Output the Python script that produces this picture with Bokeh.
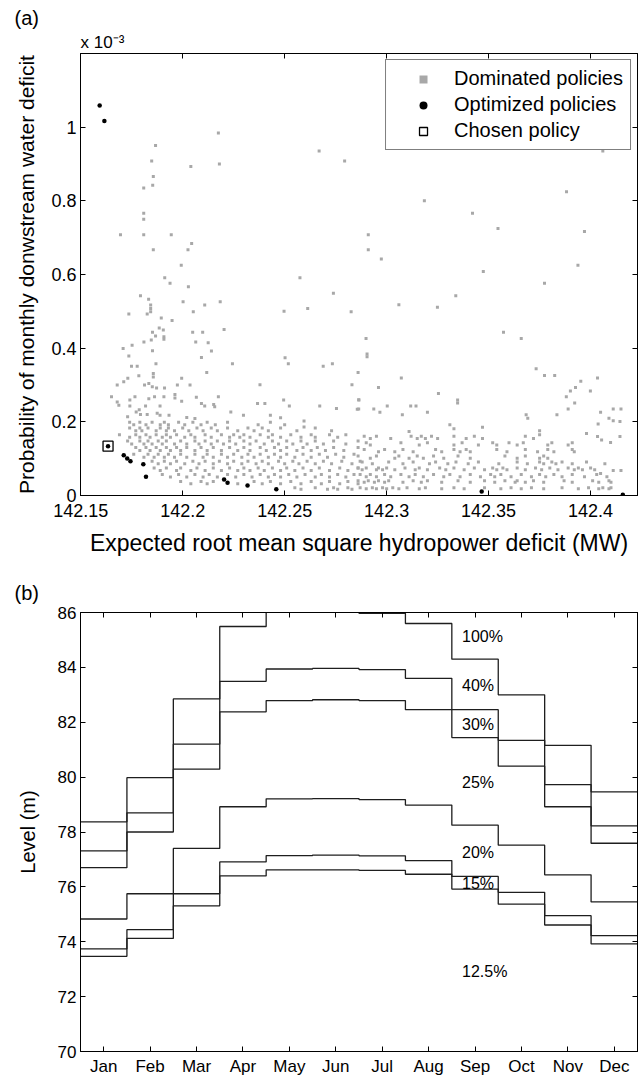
from bokeh.plotting import figure
from bokeh.models import (Range1d, LinearAxis, FixedTicker, CustomJSTickFormatter,
                          Legend, LegendItem, Title)
from bokeh.layouts import column
from bokeh.embed import file_html
from bokeh.resources import INLINE
from bokeh.core.properties import value

FONT = "Liberation Sans"

# ---------------- Panel (a) data (y in units of 1e-3) ----------------
x_ticks_a = [142.15, 142.2, 142.25, 142.3, 142.35, 142.4]
y_ticks_a = [0, 0.2, 0.4, 0.6, 0.8, 1.0]

sparse_x = [
    142.2175, 142.1867, 142.1848, 142.2040, 142.2180, 142.1856, 142.1853, 142.1809, 142.1809, 142.1809,
    142.1695, 142.1809, 142.1944, 142.2044, 142.1856, 142.2026, 142.1993, 142.1912, 142.2575, 142.2669,
    142.2794, 142.3185, 142.3421, 142.3546, 142.2910, 142.2910, 142.2974, 142.3474, 142.3882, 142.4060,
    142.3970, 142.3938,
    142.1938, 142.2028, 142.1793, 142.1833, 142.1843, 142.1843, 142.1843, 142.2002, 142.2052, 142.2108,
    142.2184, 142.1736, 142.1826, 142.1895, 142.1948, 142.1885, 142.1905, 142.1852, 142.1867, 142.1908,
    142.1908, 142.1846, 142.1810, 142.1852, 142.1708, 142.1752, 142.1736, 142.2049, 142.2098, 142.2064,
    142.2125, 142.2141, 142.2203, 142.2092, 142.1869, 142.1749, 142.1777, 142.2118, 142.2244, 142.1731,
    142.1711, 142.1679, 142.1785, 142.1856, 142.1856, 142.1813, 142.1834, 142.1851, 142.1872, 142.1911,
    142.1974, 142.1995, 142.2036, 142.1651, 142.1679, 142.1687, 142.1741, 142.1741, 142.1766, 142.1834,
    142.1862, 142.1908, 142.1962, 142.1962, 142.1995, 142.2067, 142.2092, 142.2108, 142.2152, 142.2175,
    142.2157, 142.1889, 142.1818, 142.1787, 142.1772, 142.1793, 142.1826, 142.1875, 142.1889, 142.1933,
    142.2236, 142.2298, 142.2367, 142.2403, 142.2379, 142.2430, 142.2495, 142.2523, 142.2502, 142.2518,
    142.2497, 142.2613, 142.2739, 142.2826, 142.2689, 142.2734, 142.2830, 142.2860, 142.2672, 142.2754,
    142.2864, 142.2856, 142.2595, 142.2595,
    142.3774, 142.3339, 142.3060, 142.3249, 142.3573, 142.3660, 142.2899, 142.2904, 142.2904, 142.3072,
    142.3733, 142.3774, 142.3824, 142.3952, 142.3926, 142.3901, 142.3881, 142.3922, 142.3890, 142.3999,
    142.4034, 142.2960, 142.3254, 142.3348, 142.3348, 142.2863, 142.2863, 142.2937, 142.2967, 142.3003,
    142.3118, 142.3144, 142.3077, 142.3200, 142.3684, 142.3692, 142.3835, 142.4111, 142.4149, 142.4049,
    142.4090, 142.4111, 142.4144, 142.4037, 142.3980, 142.4034, 142.4054, 142.4098, 142.4144, 142.4111,
    142.4149, 142.4049,
]
sparse_y = [
    0.984, 0.950, 0.908, 0.893, 0.900, 0.866, 0.842, 0.835, 0.766, 0.750,
    0.708, 0.708, 0.708, 0.684, 0.667, 0.667, 0.625, 0.591, 0.591, 0.935,
    0.908, 0.800, 0.766, 0.725, 0.708, 0.667, 0.642, 0.608, 0.825, 0.935,
    0.717, 0.625,
    0.576, 0.567, 0.542, 0.533, 0.517, 0.508, 0.499, 0.526, 0.499, 0.517,
    0.526, 0.493, 0.493, 0.482, 0.475, 0.455, 0.449, 0.443, 0.433, 0.431,
    0.424, 0.422, 0.417, 0.393, 0.399, 0.408, 0.379, 0.443, 0.443, 0.417,
    0.415, 0.392, 0.451, 0.375, 0.358, 0.351, 0.351, 0.334, 0.358, 0.318,
    0.309, 0.300, 0.325, 0.331, 0.322, 0.300, 0.304, 0.295, 0.292, 0.292,
    0.300, 0.318, 0.300, 0.268, 0.254, 0.245, 0.259, 0.243, 0.268, 0.263,
    0.268, 0.268, 0.274, 0.265, 0.256, 0.267, 0.250, 0.243, 0.247, 0.268,
    0.241, 0.243, 0.243, 0.233, 0.227, 0.220, 0.220, 0.223, 0.218, 0.218,
    0.227, 0.218, 0.250, 0.250, 0.301, 0.218, 0.259, 0.243, 0.374, 0.358,
    0.500, 0.508, 0.549, 0.499, 0.351, 0.358, 0.301, 0.334, 0.243, 0.236,
    0.259, 0.234, 0.202, 0.186,
    0.576, 0.542, 0.518, 0.511, 0.443, 0.426, 0.426, 0.384, 0.377, 0.319,
    0.344, 0.326, 0.326, 0.310, 0.293, 0.284, 0.268, 0.251, 0.235, 0.284,
    0.319, 0.293, 0.277, 0.259, 0.251, 0.260, 0.235, 0.235, 0.226, 0.243,
    0.243, 0.243, 0.219, 0.226, 0.219, 0.210, 0.219, 0.235, 0.235, 0.226,
    0.210, 0.203, 0.201, 0.194, 0.168, 0.160, 0.151, 0.144, 0.160, 0.068,
    0.068, 0.060,
]

band_left_x = [
    142.173, 142.202, 142.206, 142.248,
    142.174, 142.176, 142.179, 142.182, 142.185, 142.189, 142.191, 142.193, 142.198, 142.201,
    142.205, 142.209, 142.212, 142.216, 142.222, 142.237, 142.243, 142.250,
    142.174, 142.177, 142.179, 142.180, 142.183, 142.187, 142.189, 142.192, 142.193, 142.196,
    142.200, 142.203, 142.207, 142.210, 142.214, 142.217, 142.222, 142.227, 142.232, 142.235,
    142.239, 142.242, 142.248, 142.256, 142.265, 142.273,
    142.169, 142.174, 142.177, 142.179, 142.182, 142.184, 142.187, 142.190, 142.192, 142.194,
    142.197, 142.201, 142.204, 142.206, 142.211, 142.214, 142.219, 142.223, 142.225, 142.228,
    142.230, 142.233, 142.238, 142.242, 142.244, 142.248, 142.253, 142.258, 142.263, 142.265,
    142.272, 142.276, 142.280,
    142.173, 142.175, 142.179, 142.181, 142.183, 142.185, 142.188, 142.190, 142.192, 142.196,
    142.199, 142.202, 142.206, 142.208, 142.211, 142.214, 142.217, 142.220, 142.223, 142.226,
    142.230, 142.233, 142.236, 142.240, 142.244, 142.247, 142.251, 142.254, 142.258, 142.261,
    142.265, 142.269, 142.274, 142.280, 142.286,
    142.177, 142.179, 142.182, 142.184, 142.187, 142.189, 142.192, 142.194, 142.197, 142.199,
    142.202, 142.206, 142.209, 142.212, 142.215, 142.219, 142.223, 142.227, 142.230, 142.233,
    142.238, 142.241, 142.245, 142.248, 142.251, 142.256, 142.259, 142.263, 142.266, 142.270,
    142.274, 142.279, 142.286,
    142.176, 142.181, 142.183, 142.186, 142.188, 142.191, 142.193, 142.196, 142.199, 142.202,
    142.206, 142.210, 142.212, 142.215, 142.219, 142.222, 142.225, 142.229, 142.232, 142.235,
    142.238, 142.242, 142.245, 142.248, 142.251, 142.255, 142.259, 142.263, 142.267, 142.271,
    142.275, 142.279, 142.284,
    142.185, 142.188, 142.191, 142.194, 142.197, 142.201, 142.205, 142.208, 142.211, 142.215,
    142.218, 142.222, 142.225, 142.229, 142.232, 142.236, 142.239, 142.242, 142.247, 142.250,
    142.254, 142.257, 142.261, 142.265, 142.269, 142.273, 142.278, 142.283, 142.287,
    142.186, 142.189, 142.192, 142.197, 142.199, 142.204, 142.207, 142.211, 142.215, 142.219,
    142.223, 142.227, 142.230, 142.233, 142.237, 142.240, 142.244, 142.248, 142.251, 142.255,
    142.259, 142.263, 142.267, 142.272, 142.277, 142.281, 142.286,
    142.190, 142.194, 142.198, 142.202, 142.206, 142.210, 142.213, 142.217, 142.222, 142.226,
    142.230, 142.234, 142.238, 142.242, 142.245, 142.248, 142.252, 142.256, 142.260, 142.265,
    142.268, 142.272, 142.276, 142.280, 142.284,
    142.199, 142.204, 142.209, 142.212, 142.215, 142.227, 142.235, 142.239, 142.243, 142.248,
    142.253, 142.258, 142.263, 142.268, 142.272, 142.277, 142.281, 142.286,
    142.255, 142.258, 142.265, 142.271, 142.274, 142.276, 142.281, 142.283,
]
band_left_y = [
    0.214, 0.212, 0.209, 0.211,
    0.199, 0.192, 0.199, 0.192, 0.199, 0.192, 0.199, 0.192, 0.199, 0.192,
    0.199, 0.192, 0.199, 0.192, 0.199, 0.192, 0.199, 0.192,
    0.183, 0.176, 0.183, 0.176, 0.183, 0.176, 0.183, 0.176, 0.183, 0.176,
    0.183, 0.176, 0.183, 0.176, 0.183, 0.176, 0.183, 0.176, 0.183, 0.176,
    0.183, 0.176, 0.183, 0.176, 0.183, 0.176,
    0.165, 0.158, 0.165, 0.158, 0.165, 0.158, 0.165, 0.158, 0.165, 0.158,
    0.165, 0.158, 0.165, 0.158, 0.165, 0.158, 0.165, 0.158, 0.165, 0.158,
    0.165, 0.158, 0.165, 0.158, 0.165, 0.158, 0.165, 0.158, 0.165, 0.158,
    0.165, 0.158, 0.165,
    0.148, 0.140, 0.148, 0.140, 0.148, 0.140, 0.148, 0.140, 0.148, 0.140,
    0.148, 0.140, 0.148, 0.140, 0.148, 0.140, 0.148, 0.140, 0.148, 0.140,
    0.148, 0.140, 0.148, 0.140, 0.148, 0.140, 0.148, 0.140, 0.148, 0.140,
    0.148, 0.140, 0.148, 0.140, 0.148,
    0.130, 0.122, 0.130, 0.122, 0.130, 0.122, 0.130, 0.122, 0.130, 0.122,
    0.130, 0.122, 0.130, 0.122, 0.130, 0.122, 0.130, 0.122, 0.130, 0.122,
    0.130, 0.122, 0.130, 0.122, 0.130, 0.122, 0.130, 0.122, 0.130, 0.122,
    0.130, 0.122, 0.130,
    0.112, 0.104, 0.112, 0.104, 0.112, 0.104, 0.112, 0.104, 0.112, 0.104,
    0.112, 0.104, 0.112, 0.104, 0.112, 0.104, 0.112, 0.104, 0.112, 0.104,
    0.112, 0.104, 0.112, 0.104, 0.112, 0.104, 0.112, 0.104, 0.112, 0.104,
    0.112, 0.104, 0.112,
    0.093, 0.086, 0.093, 0.086, 0.093, 0.086, 0.093, 0.086, 0.093, 0.086,
    0.093, 0.086, 0.093, 0.086, 0.093, 0.086, 0.093, 0.086, 0.093, 0.086,
    0.093, 0.086, 0.093, 0.086, 0.093, 0.086, 0.093, 0.086, 0.093,
    0.075, 0.068, 0.075, 0.068, 0.075, 0.068, 0.075, 0.068, 0.075, 0.068,
    0.075, 0.068, 0.075, 0.068, 0.075, 0.068, 0.075, 0.068, 0.075, 0.068,
    0.075, 0.068, 0.075, 0.068, 0.075, 0.068, 0.075,
    0.057, 0.050, 0.057, 0.050, 0.057, 0.050, 0.057, 0.050, 0.057, 0.050,
    0.057, 0.050, 0.057, 0.050, 0.057, 0.050, 0.057, 0.050, 0.057, 0.050,
    0.057, 0.050, 0.057, 0.050, 0.057,
    0.038, 0.032, 0.038, 0.032, 0.038, 0.032, 0.038, 0.032, 0.038, 0.032,
    0.038, 0.032, 0.038, 0.032, 0.038, 0.032, 0.038, 0.032,
    0.021, 0.017, 0.021, 0.017, 0.021, 0.017, 0.021, 0.017,
]

band_right_x = [
    142.331, 142.333, 142.347, 142.311, 142.375, 142.375,
    142.289, 142.292, 142.295, 142.302, 142.312, 142.315, 142.317, 142.319, 142.322, 142.325,
    142.333, 142.339, 142.343, 142.347, 142.368, 142.372,
    142.290, 142.292, 142.307, 142.316, 142.320, 142.333, 142.337, 142.345, 142.352, 142.354,
    142.360, 142.364, 142.367, 142.379, 142.381, 142.389, 142.391,
    142.289, 142.296, 142.299, 142.304, 142.308, 142.313, 142.324, 142.327, 142.333, 142.336,
    142.339, 142.341, 142.354, 142.359, 142.368, 142.374, 142.379, 142.382, 142.391, 142.392,
    142.286, 142.292, 142.295, 142.304, 142.306, 142.311, 142.315, 142.318, 142.323, 142.328,
    142.335, 142.341, 142.358, 142.364, 142.368, 142.375, 142.377, 142.379,
    142.288, 142.293, 142.301, 142.308, 142.313, 142.321, 142.324, 142.330, 142.334, 142.340,
    142.345, 142.355, 142.364, 142.369, 142.375, 142.377, 142.381, 142.383, 142.386, 142.391,
    142.398, 142.407,
    142.286, 142.288, 142.290, 142.295, 142.296, 142.298, 142.300, 142.304, 142.309, 142.314,
    142.316, 142.320, 142.326, 142.329, 142.333, 142.338, 142.343, 142.348, 142.352, 142.354,
    142.357, 142.359, 142.364, 142.368, 142.373, 142.376, 142.380, 142.384, 142.389, 142.392,
    142.394, 142.396, 142.400, 142.402,
    142.287, 142.290, 142.292, 142.295, 142.299, 142.302, 142.307, 142.311, 142.314, 142.318,
    142.323, 142.328, 142.331, 142.336, 142.341, 142.346, 142.351, 142.353, 142.356, 142.361,
    142.366, 142.371, 142.375, 142.378, 142.382, 142.386, 142.391, 142.397, 142.403, 142.408,
    142.286, 142.289, 142.291, 142.294, 142.296, 142.299, 142.301, 142.308, 142.313, 142.317,
    142.320, 142.327, 142.335, 142.341, 142.348, 142.353, 142.358, 142.363, 142.364, 142.368,
    142.372, 142.377, 142.387, 142.391, 142.401, 142.404, 142.409, 142.410,
    142.287, 142.290, 142.293, 142.295, 142.298, 142.300, 142.303, 142.306, 142.310, 142.316,
    142.319, 142.327, 142.333, 142.338, 142.348, 142.356, 142.361, 142.366, 142.371, 142.377,
    142.386, 142.394, 142.399, 142.404, 142.406, 142.409, 142.410,
]
band_right_y = [
    0.192, 0.181, 0.185, 0.174, 0.176, 0.165,
    0.161, 0.155, 0.161, 0.155, 0.161, 0.155, 0.161, 0.155, 0.161, 0.155,
    0.161, 0.155, 0.161, 0.155, 0.161, 0.155,
    0.143, 0.137, 0.143, 0.137, 0.143, 0.137, 0.143, 0.137, 0.143, 0.137,
    0.143, 0.137, 0.143, 0.137, 0.143, 0.137, 0.143,
    0.125, 0.119, 0.125, 0.119, 0.125, 0.119, 0.125, 0.119, 0.125, 0.119,
    0.125, 0.119, 0.125, 0.119, 0.125, 0.119, 0.125, 0.119, 0.125, 0.119,
    0.107, 0.101, 0.107, 0.101, 0.107, 0.101, 0.107, 0.101, 0.107, 0.101,
    0.107, 0.101, 0.107, 0.101, 0.107, 0.101, 0.107, 0.101,
    0.091, 0.086, 0.091, 0.086, 0.091, 0.086, 0.091, 0.086, 0.091, 0.086,
    0.091, 0.086, 0.091, 0.086, 0.091, 0.086, 0.091, 0.086, 0.091, 0.086,
    0.091, 0.086,
    0.075, 0.070, 0.075, 0.070, 0.075, 0.070, 0.075, 0.070, 0.075, 0.070,
    0.075, 0.070, 0.075, 0.070, 0.075, 0.070, 0.075, 0.070, 0.075, 0.070,
    0.075, 0.070, 0.075, 0.070, 0.075, 0.070, 0.075, 0.070, 0.075, 0.070,
    0.075, 0.070, 0.075, 0.070,
    0.057, 0.051, 0.057, 0.051, 0.057, 0.051, 0.057, 0.051, 0.057, 0.051,
    0.057, 0.051, 0.057, 0.051, 0.057, 0.051, 0.057, 0.051, 0.057, 0.051,
    0.057, 0.051, 0.057, 0.051, 0.057, 0.051, 0.057, 0.051, 0.057, 0.051,
    0.040, 0.036, 0.040, 0.036, 0.040, 0.036, 0.040, 0.036, 0.040, 0.036,
    0.040, 0.036, 0.040, 0.036, 0.040, 0.036, 0.040, 0.036, 0.040, 0.036,
    0.040, 0.036, 0.040, 0.036, 0.040, 0.036, 0.040, 0.036,
    0.021, 0.018, 0.021, 0.018, 0.021, 0.018, 0.021, 0.018, 0.021, 0.018,
    0.021, 0.018, 0.021, 0.018, 0.021, 0.018, 0.021, 0.018, 0.021, 0.018,
    0.021, 0.018, 0.021, 0.018, 0.021, 0.018, 0.021,
]

optimized_x = [142.1593, 142.1616, 142.1711, 142.1728, 142.1744, 142.1807, 142.1820,
               142.2203, 142.2220, 142.2318, 142.2459, 142.3466, 142.4158]
optimized_y = [1.059, 1.017, 0.1095, 0.1005, 0.0932, 0.0851, 0.0507,
               0.0434, 0.0344, 0.0271, 0.0172, 0.011, 0.002]
chosen_x = [142.1634]
chosen_y = [0.134]

assert len(band_left_x) == len(band_left_y)
assert len(band_right_x) == len(band_right_y)
assert len(sparse_x) == len(sparse_y)

dominated_x = sparse_x + band_left_x + band_right_x
dominated_y = sparse_y + band_left_y + band_right_y

# ---------------- Panel (b) data ----------------
months = ["Jan", "Feb", "Mar", "Apr", "May", "Jun", "Jul", "Aug", "Sep", "Oct", "Nov", "Dec"]
month_pos = [1, 2, 3, 4, 5, 6, 7, 8, 9, 10, 11, 12]
curve_100_40 = [78.37, 79.98, 82.85, 85.49, 86.40, 86.40, 85.97, 85.60, 84.30, 83.00, 81.16, 79.46]
curve_40_30 = [77.31, 78.70, 81.20, 83.49, 83.94, 83.96, 83.92, 83.60, 82.46, 81.34, 79.73, 78.22]
curve_30_25 = [76.70, 78.00, 80.29, 82.38, 82.79, 82.82, 82.79, 82.46, 81.44, 80.40, 78.92, 77.59]
curve_25_20 = [74.83, 75.75, 77.40, 78.92, 79.21, 79.22, 79.18, 78.98, 78.25, 77.52, 76.44, 75.45]
curve_20_15 = [73.74, 74.44, 75.75, 76.91, 77.14, 77.16, 77.13, 76.96, 76.38, 75.80, 74.95, 74.22]
curve_15_125 = [73.47, 74.12, 75.31, 76.40, 76.62, 76.62, 76.60, 76.46, 75.92, 75.37, 74.61, 73.92]
zone_labels = ["100%", "40%", "30%", "25%", "20%", "15%", "12.5%"]
zone_label_y = [85.12, 83.33, 81.92, 79.79, 77.25, 76.11, 72.90]
zone_label_x = [8.72] * 7
y_ticks_b = [70, 72, 74, 76, 78, 80, 82, 84, 86]


def style_axis(ax, size, labels=True, standoff=5):
    ax.axis_line_color = "black"
    ax.axis_line_width = 1
    ax.major_tick_in = 5
    ax.major_tick_out = 0
    ax.major_tick_line_color = "black"
    ax.minor_tick_line_color = None
    ax.major_label_text_font = FONT
    ax.axis_label_text_font = FONT
    ax.axis_label_text_font_style = "normal"
    ax.axis_label_text_color = "black"
    if labels:
        ax.major_label_text_color = "black"
        ax.major_label_text_font_size = size
        ax.major_label_standoff = standoff
    else:
        ax.major_label_text_color = None
        ax.major_label_text_font_size = "1px"
        ax.major_label_standoff = 0


def panel_title(text, size, offset, standoff):
    return Title(text=text, align="left", offset=offset, standoff=standoff,
                 text_font=FONT, text_font_size=size, text_font_style="normal",
                 text_color="black")


# ---------------- Figure (a) ----------------
p1 = figure(width=638, height=570, x_range=Range1d(142.1499, 142.423), y_range=Range1d(0, 1.2),
            output_backend="svg", toolbar_location=None,
            min_border_left=80, min_border_right=1, min_border_top=53, min_border_bottom=75)
p1.xgrid.visible = False
p1.ygrid.visible = False
p1.outline_line_color = "black"
p1.background_fill_color = "white"
p1.border_fill_color = "white"

fmt_x = CustomJSTickFormatter(code="return (Math.round(tick*100)/100).toString();")
fmt_y = CustomJSTickFormatter(code="return (Math.round(tick*10)/10).toString();")

p1.xaxis.ticker = FixedTicker(ticks=x_ticks_a)
p1.xaxis.formatter = fmt_x
p1.yaxis.ticker = FixedTicker(ticks=y_ticks_a)
p1.yaxis.formatter = fmt_y
for ax in p1.xaxis:
    style_axis(ax, "18px", standoff=8)
    ax.axis_label = "Expected root mean square hydropower deficit (MW)"
    ax.axis_label_text_font_size = "23px"
    ax.axis_label_standoff = 10
for ax in p1.yaxis:
    style_axis(ax, "18px", standoff=4)
    ax.axis_label = "Probability of monthly donwstream water deficit"
    ax.axis_label_text_font_size = "21px"
    ax.axis_label_standoff = 10

top_a = LinearAxis(ticker=FixedTicker(ticks=x_ticks_a))
style_axis(top_a, "1px", labels=False)
p1.add_layout(top_a, "above")
right_a = LinearAxis(ticker=FixedTicker(ticks=y_ticks_a))
style_axis(right_a, "1px", labels=False)
p1.add_layout(right_a, "right")
p1.add_layout(panel_title("x 10\u207b\u00b3", "17px", 0, 4), "above")
p1.add_layout(panel_title("(a)", "20px", -66, 0), "above")

dom_r = p1.scatter(dominated_x, dominated_y, marker="square", size=3,
                   fill_color="#a8a8a8", line_color=None)
opt_r = p1.scatter(optimized_x, optimized_y, marker="circle", size=4.5,
                   fill_color="black", line_color=None)
cho_r = p1.scatter(chosen_x, chosen_y, marker="square", size=10,
                   fill_color=None, line_color="black", line_width=1.3)
p1.scatter(chosen_x, chosen_y, marker="circle", size=4.5, fill_color="black", line_color=None)

legend = Legend(items=[LegendItem(label="Dominated policies", renderers=[dom_r]),
                       LegendItem(label="Optimized policies", renderers=[opt_r]),
                       LegendItem(label="Chosen policy", renderers=[cho_r])],
                location="top_right", margin=6, padding=7, spacing=3,
                glyph_width=60, glyph_height=20, label_height=20, label_standoff=1,
                label_text_font=FONT, label_text_font_size="20px", label_text_color="black",
                border_line_color="black", border_line_width=1,
                background_fill_color="white", background_fill_alpha=1.0)
p1.add_layout(legend)

# ---------------- Figure (b) ----------------
p2 = figure(width=638, height=508, x_range=Range1d(0.5, 12.5), y_range=Range1d(70, 86),
            output_backend="svg", toolbar_location=None,
            min_border_left=80, min_border_right=1, min_border_top=42, min_border_bottom=25)
p2.xgrid.visible = False
p2.ygrid.visible = False
p2.outline_line_color = "black"
p2.background_fill_color = "white"
p2.border_fill_color = "white"

fmt_m = CustomJSTickFormatter(args=dict(names=months),
                              code="return names[Math.round(tick)-1] || '';")
p2.xaxis.ticker = FixedTicker(ticks=month_pos)
p2.xaxis.formatter = fmt_m
p2.yaxis.ticker = FixedTicker(ticks=y_ticks_b)
for ax in p2.xaxis:
    style_axis(ax, "17px", standoff=5)
for ax in p2.yaxis:
    style_axis(ax, "17px", standoff=4)
    ax.axis_label = "Level (m)"
    ax.axis_label_text_font_size = "20px"
    ax.axis_label_standoff = 16

top_b = LinearAxis(ticker=FixedTicker(ticks=month_pos))
style_axis(top_b, "1px", labels=False)
p2.add_layout(top_b, "above")
right_b = LinearAxis(ticker=FixedTicker(ticks=y_ticks_b))
style_axis(right_b, "1px", labels=False)
p2.add_layout(right_b, "right")
p2.add_layout(panel_title("(b)", "20px", -66, 17), "above")

edges = [m - 0.5 for m in month_pos] + [month_pos[-1] + 0.5]
for curve in [curve_100_40, curve_40_30, curve_30_25, curve_25_20, curve_20_15, curve_15_125]:
    p2.step(x=edges, y=curve + [curve[-1]], mode="after", line_color="#1e1e1e", line_width=1.3)

p2.text(x=zone_label_x, y=zone_label_y, text=zone_labels, text_font=value(FONT),
        text_font_size="16px", text_baseline="middle", text_align="left", text_color="black")

layout = column(p1, p2, spacing=0)
open("out.html", "w").write(file_html(layout, INLINE))
